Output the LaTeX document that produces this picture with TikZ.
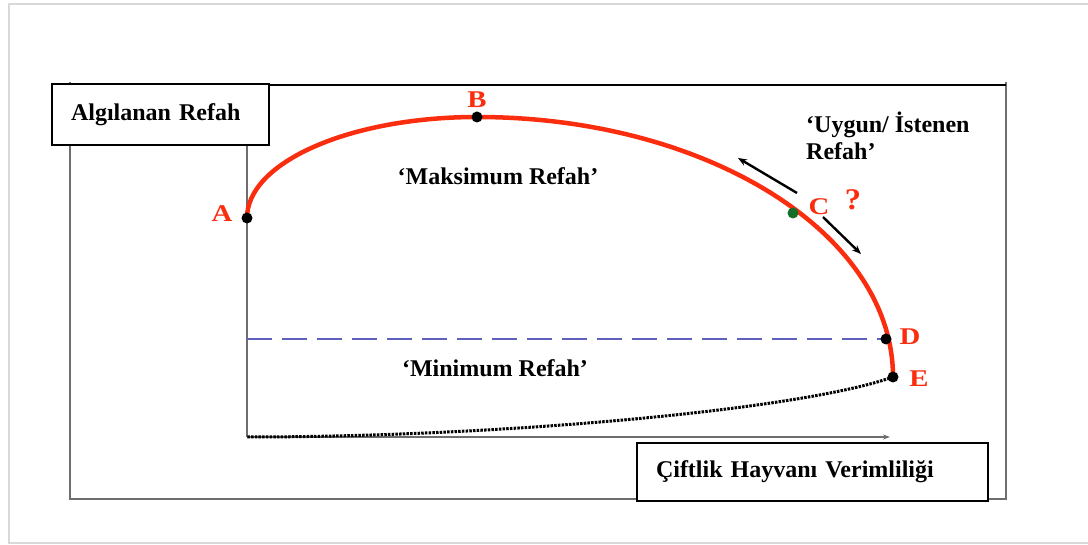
\documentclass[tikz,border=0pt]{standalone}
\usepackage{fontspec}
\setmainfont{Liberation Serif}
\usepackage{tikz}
\usetikzlibrary{arrows.meta, positioning, calc}

\definecolor{curvered}{RGB}{250,45,15}
\definecolor{dashblue}{RGB}{95,95,190}
\definecolor{framegray}{RGB}{110,110,110}
\definecolor{dotgreen}{RGB}{20,110,40}

\begin{document}
\begin{tikzpicture}[
    x=1pt, y=-1pt,
    box/.style={draw, line width=1.6pt, fill=white, inner xsep=19pt, align=left, font=\fontsize{24}{27}\selectfont\bfseries},
    lbl/.style={font=\fontsize{24}{27}\selectfont\bfseries, align=left},
    ptlbl/.style={text=curvered, font=\fontsize{24}{26}\selectfont\bfseries, xscale=1.2, transform shape},
    axis/.style={draw=framegray, line width=1.8pt},
    dot/.style={circle, fill=black, inner sep=0pt, minimum size=11pt},
    arrow/.style={-{Stealth[length=9pt, width=7pt]}, line width=2.4pt}
]
\useasboundingbox (0,0) rectangle (1088,545);

% page edge
\draw[black!15, line width=1.2pt] (1088,4) -- (9,4) -- (9,543) -- (1088,543);

% outer frame
\draw[framegray, line width=1.8pt] (70,82) -- (70,499) -- (1006,499) -- (1006,82);
\draw[black, line width=1.6pt] (269,85) -- (1006,85);

% points
\coordinate (A) at (247,218);
\coordinate (B) at (477,117);
\coordinate (C) at (793,213);
\coordinate (D) at (886,339);
\coordinate (E) at (893,377);
\coordinate (origin) at (247,437);
\coordinate (ytop) at (247,145);
\coordinate (xend) at (890,437);
\coordinate (dstart) at (247,339);

% axes
\draw[axis] (ytop) -- (origin);
\draw[axis, -{Stealth[length=7pt, width=5pt]}] (origin) -- (xend);

% minimum line
\draw[dashblue, line width=2.8pt, dash pattern=on 25pt off 10pt] (dstart) -- (D);

% curves
\draw[curvered, line width=4.5pt] (A) arc[start angle=180, end angle=90, x radius=230pt, y radius=101pt]
    arc[start angle=90, end angle=0, x radius=416pt, y radius=260pt];
\draw[black, line width=3pt, dash pattern=on 2.5pt off 1.2pt] (E) .. controls (800,410) and (500,437) .. (origin);

% arrows around C
\coordinate (up1) at (797,193);
\coordinate (up2) at (738,158);
\coordinate (dn1) at (823,217);
\coordinate (dn2) at (861,254);
\draw[arrow] (up1) -- (up2);
\draw[arrow] (dn1) -- (dn2);

% dots
\node[dot] (dA) at (A) {};
\node[dot] (dB) at (B) {};
\node[dot, fill=dotgreen] (dC) at (C) {};
\node[dot] (dD) at (D) {};
\node[dot] (dE) at (E) {};

% point labels
\node[ptlbl] (la) at (222,214) {A};
\node[ptlbl] (lb) at (477,100) {B};
\node[ptlbl] (lc) at (819,207) {C};
\node[ptlbl, font=\fontsize{30}{32}\selectfont\bfseries, xscale=0.9] (lq) at (853,200) {?};
\node[ptlbl] (ld) at (910,337) {D};
\node[ptlbl] (le) at (919,379) {E};

% texts
\node[lbl] (maks) at (498,176) {‘Maksimum Refah’};
\node[lbl] (mini) at (495,368) {‘Minimum Refah’};
\node[lbl, anchor=north west, inner sep=0pt] (uygun) at (806,112) {‘Uygun/ İstenen\\Refah’};

% axis boxes
\node[box, text width=179pt, minimum height=61pt] (ylab) at (160.5,114.5) {Algılanan Refah};
\node[box, text width=313pt, minimum height=58pt] (xlab) at (812.5,472) {Çiftlik Hayvanı Verimliliği};

\end{tikzpicture}
\end{document}
